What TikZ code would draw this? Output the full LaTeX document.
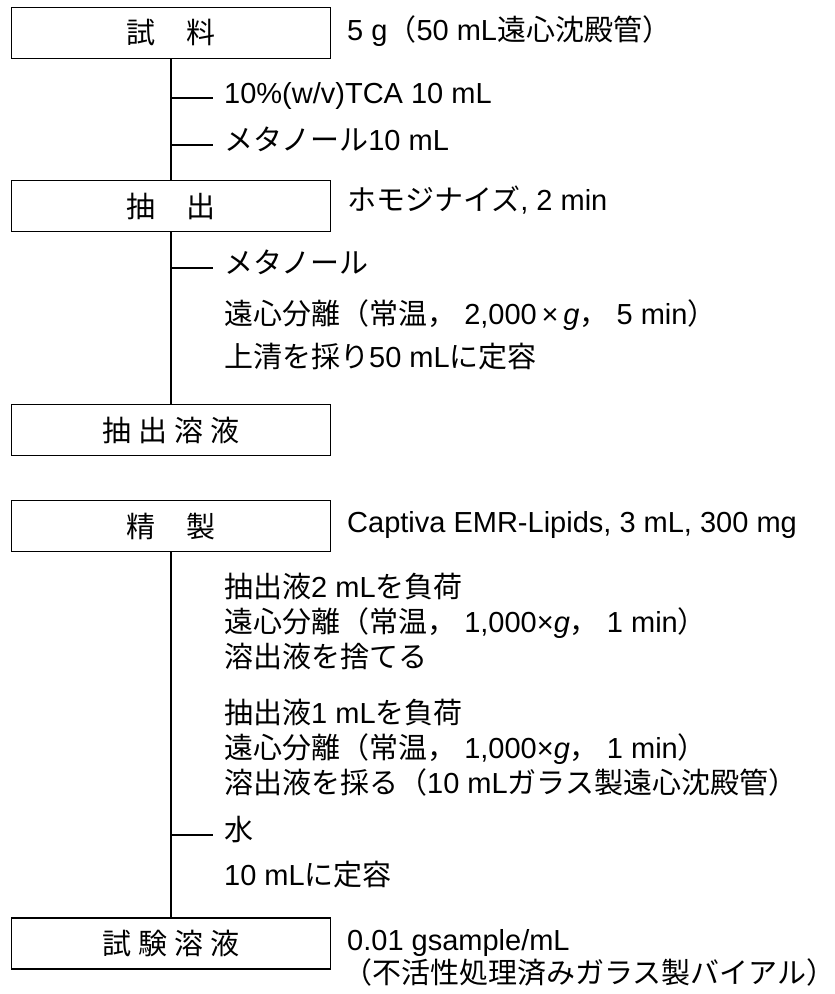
\documentclass[tikz,border=0pt]{standalone}
\usepackage{fontspec}
\setmainfont{Liberation Sans}
\newfontfamily\jpfont{Noto Sans CJK JP}
\newcommand{\J}[1]{{\jpfont #1}}
\tikzset{
  stepbox/.style={draw, line width=1.6pt, minimum width=319pt, minimum height=51pt, inner sep=0pt},
  lbl/.style={anchor=west, inner sep=0pt, text height=1.16em, text depth=0em},
  flow/.style={line width=1.3pt}
}
\begin{document}
\begin{tikzpicture}[x=1pt, y=-1pt, font=\fontsize{29}{34}\selectfont]
        \useasboundingbox (0,0) rectangle (835,994);

        % boxes
        \node[stepbox] (sample) at (171,33) {\J{試\hspace{1.1em}料}};
        \node[stepbox] (extr) at (171,206) {\J{抽\hspace{1.1em}出}};
        \node[stepbox] (extsol) at (171,430) {\J{抽\hspace{.25em}出\hspace{.25em}溶\hspace{.25em}液}};
        \node[stepbox] (clean) at (171,526) {\J{精\hspace{1.1em}製}};
        \node[stepbox] (testsol) at (171,943.5) {\J{試\hspace{.25em}験\hspace{.25em}溶\hspace{.25em}液}};

        % notes beside the boxes
        \node[lbl] (nsample) at (347,35) {5 g\J{（}50 mL\J{遠心沈殿管）}};
        \node[lbl] (nextr) at (347,205) {\J{ホモジナイズ}, 2 min};
        \node[lbl] (nclean) at (347,527) {Captiva EMR-Lipids, 3 mL, 300 mg};
        \node[lbl] (ntest) at (347,945) {0.01 gsample/mL};
        \node[lbl] (nvial) at (343,978) {\J{（不活性処理済みガラス製バイアル）}};

        % steps
        \node[lbl] (tca) at (224,98) {10\%(w/v)TCA 10 mL};
        \node[lbl] (meoh) at (224,145) {\J{メタノール}10 mL};
        \node[lbl] (meoh2) at (224,268) {\J{メタノール}};
        \node[lbl] (cent1) at (224,319) {\J{遠心分離（常温，} 2,000\,×\,\textit{g}\J{，} 5 min\J{）}};
        \node[lbl] (vol1) at (224,362) {\J{上清を採り}50 mL\J{に定容}};

        \node[lbl] (load2) at (224,592) {\J{抽出液}2 mL\J{を負荷}};
        \node[lbl] (cent2) at (224,627) {\J{遠心分離（常温，} 1,000×\textit{g}\J{，} 1 min\J{）}};
        \node[lbl] (waste) at (224,662) {\J{溶出液を捨てる}};
        \node[lbl] (load1) at (224,718) {\J{抽出液}1 mL\J{を負荷}};
        \node[lbl] (cent3) at (224,753) {\J{遠心分離（常温，} 1,000×\textit{g}\J{，} 1 min\J{）}};
        \node[lbl] (collect) at (224,788) {\J{溶出液を採る（}10 mL\J{ガラス製遠心沈殿管）}};
        \node[lbl] (water) at (224,835) {\J{水}};
        \node[lbl] (vol2) at (224,880) {10 mL\J{に定容}};

        % flow lines
        \draw[flow] (sample.south) -- (extr.north);
        \draw[flow] (extr.south) -- (extsol.north);
        \draw[flow] (clean.south) -- (testsol.north);

        \draw[flow] (sample.south |- tca.west) -- ([xshift=-11pt]tca.west);
        \draw[flow] (sample.south |- meoh.west) -- ([xshift=-11pt]meoh.west);
        \draw[flow] (extr.south |- meoh2.west) -- ([xshift=-11pt]meoh2.west);
        \draw[flow] (clean.south |- water.west) -- ([xshift=-11pt]water.west);
\end{tikzpicture}
\end{document}
